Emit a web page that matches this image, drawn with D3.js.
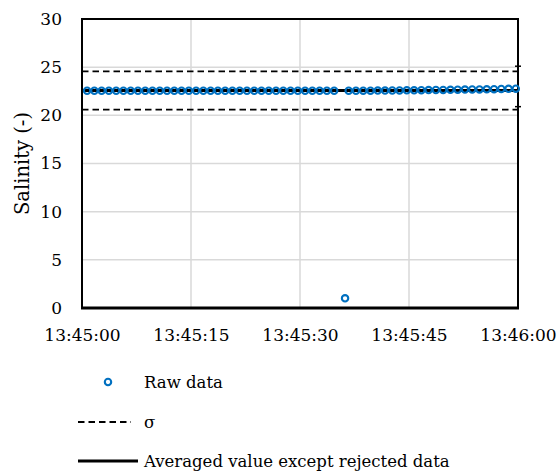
<!DOCTYPE html>
<html>
<head>
<meta charset="utf-8">
<script src="https://cdn.jsdelivr.net/npm/d3@7/dist/d3.min.js"></script>
<style>
  body { margin: 0; background: #fff; }
</style>
</head>
<body>
<script>
// chart size
var width = 558;
var height = 475;
var serif = 'DejaVu Serif';

// seconds after 13:45:00 for each raw sample
var seconds = [0.7, 1.7, 2.7, 3.7, 4.7, 5.7, 6.7, 7.7, 8.7, 9.7,
  10.7, 11.7, 12.7, 13.7, 14.7, 15.7, 16.7, 17.7, 18.7, 19.7,
  20.7, 21.7, 22.7, 23.7, 24.7, 25.7, 26.7, 27.7, 28.7, 29.7,
  30.7, 31.7, 32.7, 33.7, 34.7, 36.2, 36.7, 37.7, 38.7, 39.7,
  40.7, 41.7, 42.7, 43.7, 44.7, 45.7, 46.7, 47.7, 48.7, 49.7,
  50.7, 51.7, 52.7, 53.7, 54.7, 55.7, 56.7, 57.7, 58.7, 59.7];
// salinity values (raw data)
var salinity = [22.55, 22.55, 22.55, 22.55, 22.55, 22.55, 22.55, 22.55, 22.55, 22.55,
  22.55, 22.55, 22.55, 22.55, 22.55, 22.55, 22.55, 22.55, 22.55, 22.55,
  22.55, 22.55, 22.55, 22.55, 22.55, 22.55, 22.55, 22.55, 22.55, 22.55,
  22.55, 22.55, 22.55, 22.55, 22.55, 1.0, 22.55, 22.55, 22.56, 22.56,
  22.57, 22.57, 22.58, 22.59, 22.6, 22.6, 22.61, 22.62, 22.63, 22.64,
  22.65, 22.66, 22.67, 22.68, 22.69, 22.7, 22.72, 22.74, 22.75, 22.77];

// averaged value and sigma band
var avgTimes = [0, 60];
var avgValue = 22.57;
var sigmaUpper = 24.57;
var sigmaLower = 20.6;
// error bar at the end of the average line
var errTime = 60;
var errLow = 20.9;
var errHigh = 25.1;

var yTicks = [0, 5, 10, 15, 20, 25, 30];
var xTickSeconds = [0, 15, 30, 45, 60];
var legendLabels = ['Raw data', '\u03c3', 'Averaged value except rejected data'];

var padding = { top: 19, right: 40, bottom: 167, left: 82 };
var blue = '#0070C0';
var grid = '#d9d9d9';

var base = new Date(2000, 0, 1, 13, 45, 0);
function toDate(s) { return new Date(base.getTime() + s * 1000); }

var svg = d3.select('body')
  .append('svg')
  .attr('width', width)
  .attr('height', height)
  .style('font-family', serif);

var xScale = d3.scaleTime()
  .domain([toDate(0), toDate(60)])
  .range([padding.left, width - padding.right]);

var yScale = d3.scaleLinear()
  .domain([0, 30])
  .range([height - padding.bottom, padding.top]);

// gridlines
svg.append('g')
  .selectAll('line')
  .data(yTicks.slice(1, -1))
  .enter()
  .append('line')
  .attr('x1', xScale.range()[0])
  .attr('x2', xScale.range()[1])
  .attr('y1', function (d) { return yScale(d); })
  .attr('y2', function (d) { return yScale(d); })
  .attr('stroke', grid)
  .attr('stroke-width', 1.5);

svg.append('g')
  .selectAll('line')
  .data(xTickSeconds.slice(1, -1))
  .enter()
  .append('line')
  .attr('x1', function (d) { return xScale(toDate(d)); })
  .attr('x2', function (d) { return xScale(toDate(d)); })
  .attr('y1', yScale(0))
  .attr('y2', yScale(30))
  .attr('stroke', grid)
  .attr('stroke-width', 1.5);

// axes (labels only, box drawn separately)
var xAxis = d3.axisBottom(xScale)
  .tickValues(xTickSeconds.map(toDate))
  .tickFormat(d3.timeFormat('%H:%M:%S'))
  .tickSize(0)
  .tickPadding(21);

var yAxis = d3.axisLeft(yScale)
  .tickValues(yTicks)
  .tickSize(0)
  .tickPadding(20);

var gx = svg.append('g')
  .attr('transform', 'translate(0,' + yScale(0) + ')')
  .call(xAxis);
var gy = svg.append('g')
  .attr('transform', 'translate(' + padding.left + ',0)')
  .call(yAxis);
[gx, gy].forEach(function (g) {
  g.attr('font-family', null).attr('font-size', null);
  g.select('.domain').remove();
  g.selectAll('text')
    .style('font-family', serif)
    .style('font-size', '17px');
});

// y axis title
svg.append('text')
  .attr('transform', 'translate(29,' + yScale(15) + ') rotate(-90)')
  .attr('text-anchor', 'middle')
  .style('font-family', serif)
  .style('font-size', '19.5px')
  .text('Salinity (-)');

// sigma lines
[sigmaUpper, sigmaLower].forEach(function (v) {
  svg.append('line')
    .attr('x1', xScale.range()[0])
    .attr('x2', xScale.range()[1])
    .attr('y1', yScale(v))
    .attr('y2', yScale(v))
    .attr('stroke', '#000')
    .attr('stroke-width', 1.8)
    .attr('stroke-dasharray', '6.5,4');
});

// averaged line
var avgLine = d3.line()
  .x(function (d) { return xScale(toDate(d)); })
  .y(function () { return yScale(avgValue); });

svg.append('path')
  .attr('d', avgLine(avgTimes))
  .attr('fill', 'none')
  .attr('stroke', '#000')
  .attr('stroke-width', 3);

// plot box
svg.append('rect')
  .attr('x', xScale.range()[0])
  .attr('y', yScale(30))
  .attr('width', xScale.range()[1] - xScale.range()[0])
  .attr('height', yScale(0) - yScale(30))
  .attr('fill', 'none')
  .attr('stroke', '#000')
  .attr('stroke-width', 2);
svg.append('line')
  .attr('x1', xScale.range()[0] - 1)
  .attr('x2', xScale.range()[1] + 1)
  .attr('y1', yScale(0))
  .attr('y2', yScale(0))
  .attr('stroke', '#000')
  .attr('stroke-width', 3);

// error bar on right edge
var ex = xScale(toDate(errTime));
svg.append('line')
  .attr('x1', ex).attr('x2', ex)
  .attr('y1', yScale(errHigh)).attr('y2', yScale(errLow))
  .attr('stroke', '#000').attr('stroke-width', 2);
[errHigh, errLow].forEach(function (v) {
  svg.append('line')
    .attr('x1', ex - 3).attr('x2', ex + 3)
    .attr('y1', yScale(v)).attr('y2', yScale(v))
    .attr('stroke', '#000').attr('stroke-width', 1.5);
});

// raw data points
svg.append('g')
  .selectAll('circle')
  .data(seconds)
  .enter()
  .append('circle')
  .attr('cx', function (d) { return xScale(toDate(d)); })
  .attr('cy', function (d, i) { return yScale(salinity[i]); })
  .attr('r', 3.2)
  .attr('fill', 'none')
  .attr('stroke', blue)
  .attr('stroke-width', 2.1);

// legend
var legend = svg.append('g');
var rowY = [382, 422, 461];
legend.append('circle')
  .attr('cx', 108).attr('cy', rowY[0]).attr('r', 3.2)
  .attr('fill', 'none').attr('stroke', blue).attr('stroke-width', 2.1);
legend.append('line')
  .attr('x1', 78).attr('x2', 131).attr('y1', rowY[1]).attr('y2', rowY[1])
  .attr('stroke', '#000').attr('stroke-width', 1.8).attr('stroke-dasharray', '6.5,4');
legend.append('line')
  .attr('x1', 78).attr('x2', 138).attr('y1', rowY[2]).attr('y2', rowY[2])
  .attr('stroke', '#000').attr('stroke-width', 3);
legend.selectAll('text')
  .data(legendLabels)
  .enter()
  .append('text')
  .attr('x', 144)
  .attr('y', function (d, i) { return rowY[i] + 6; })
  .style('font-family', serif)
  .style('font-size', '16.5px')
  .text(function (d) { return d; });
</script>
</body>
</html>
